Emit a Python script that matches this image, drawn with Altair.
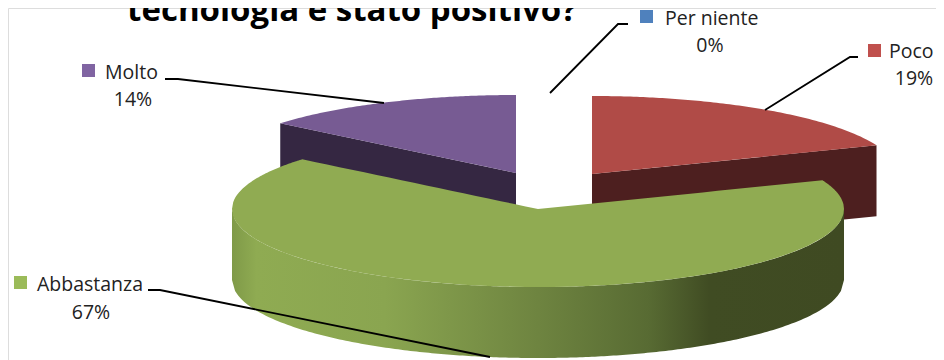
import numpy as np
import pandas as pd
import altair as alt

categories = ["Per niente", "Poco", "Abbastanza", "Molto"]
shares = [0, 19, 67, 14]
percent_labels = ["0%", "19%", "67%", "14%"]
title_text = "tecnologia è stato positivo?"

# layout of the tilted pie (picture pixels)
RX, RY, DEPTH = 306.0, 78.0, 71.0
CENTERS = {"Poco": (592.0, 174.0), "Abbastanza": (538.0, 209.0), "Molto": (516.0, 173.0)}
W, H = 928, 352


def angles():
    out, a = {}, 0.0
    for c, s in zip(categories, shares):
        out[c] = (a, a + s * 3.6)
        a += s * 3.6
    return out


ANG = angles()


def pt(c, deg):
    cx, cy = CENTERS[c]
    r = np.radians(deg)
    return cx + RX * np.sin(r), cy - RY * np.cos(r)


def rim(c, x):
    cx, cy = CENTERS[c]
    u = np.clip((x - cx) / RX, -1, 1)
    h = RY * np.sqrt(1 - u * u)
    return cy - h, cy + h


def lerp(x, a, b):
    return a[1] + (b[1] - a[1]) * (x - a[0]) / (b[0] - a[0])


def frame(xs, y, y2):
    return pd.DataFrame({"x": xs, "y": y, "y2": y2})


def small_top(c):
    a0, a1 = ANG[c]
    apex = CENTERS[c]
    corner = pt(c, a1 if c == "Poco" else a0)
    xs = np.linspace(min(apex[0], corner[0]), max(apex[0], corner[0]), 90)
    return frame(xs, rim(c, xs)[0], lerp(xs, apex, corner))


def small_side(c):
    a0, a1 = ANG[c]
    apex = CENTERS[c]
    corner = pt(c, a1 if c == "Poco" else a0)
    xs = np.array([min(apex[0], corner[0]), max(apex[0], corner[0])])
    y = lerp(xs, apex, corner)
    return frame(xs, y, y + DEPTH)


def big_top(c):
    a0, a1 = ANG[c]
    apex = CENTERS[c]
    right, left = pt(c, a0), pt(c, a1)
    cx = apex[0]
    xs = np.unique(np.concatenate([
        np.linspace(cx - RX, left[0], 60), np.linspace(left[0], cx, 20),
        np.linspace(cx, right[0], 20), np.linspace(right[0], cx + RX, 40)]))
    up, low = rim(c, xs)
    top = up.copy()
    m = (xs >= left[0]) & (xs <= cx)
    top[m] = lerp(xs[m], left, apex)
    m = (xs >= cx) & (xs <= right[0])
    top[m] = lerp(xs[m], apex, right)
    return frame(xs, top, low)


def big_side(c):
    cx = CENTERS[c][0]
    xs = np.linspace(cx - RX, cx + RX, 200)
    low = rim(c, xs)[1]
    return frame(xs, low, low + DEPTH)


x_s = alt.Scale(domain=[8, 8 + W], range=[0, W])
y_s = alt.Scale(domain=[8, 8 + H], range=[0, H])
X = alt.X("x:Q", scale=x_s, axis=None)
Y = alt.Y("y:Q", scale=y_s, axis=None)
Y2 = alt.Y2("y2:Q")


def area(df, fill):
    return alt.Chart(df).mark_area(color=fill, clip=False, interpolate="linear").encode(x=X, y=Y, y2=Y2)


green_side = alt.Gradient(
    gradient="linear", x1=0, x2=1, y1=0, y2=0,
    stops=[
        alt.GradientStop(offset=0.0, color="#7f9a48"),
        alt.GradientStop(offset=0.04, color="#8fab52"),
        alt.GradientStop(offset=0.25, color="#8aa550"),
        alt.GradientStop(offset=0.5, color="#6e8440"),
        alt.GradientStop(offset=0.68, color="#586b33"),
        alt.GradientStop(offset=0.78, color="#404c23"),
        alt.GradientStop(offset=1.0, color="#3f4a22"),
    ],
)

layers = [
    area(small_side("Molto"), "#352742"),
    area(small_top("Molto"), "#775b93"),
    area(small_side("Poco"), "#4d1f1f"),
    area(small_top("Poco"), "#b04b47"),
    area(big_side("Abbastanza"), green_side),
    area(big_top("Abbastanza"), "#90ab52"),
]

leaders = [
    [(165, 79), (178, 79), (384, 103)],
    [(148, 290), (160, 290), (490, 357)],
    [(628, 24), (618, 24), (550, 93)],
    [(858, 57), (850, 57), (765, 110)],
]
for i, seg in enumerate(leaders):
    d = pd.DataFrame({"x": [p[0] for p in seg], "y": [p[1] for p in seg], "o": range(len(seg))})
    layers.append(alt.Chart(d).mark_line(color="#000000", strokeWidth=1.8).encode(x=X, y=Y, order="o:Q"))

key_colors = ["#4f81bd", "#c0504d", "#9bbb59", "#8064a2"]
keys = pd.DataFrame({
    "x": [640, 868, 14, 82], "y": [10, 44, 276, 64], "c": categories,
})
keys["x2"] = keys["x"] + 13
keys["y2"] = keys["y"] + 13
layers.append(
    alt.Chart(keys).mark_rect().encode(
        x=X, x2="x2:Q", y=Y, y2="y2:Q",
        color=alt.Color("c:N", scale=alt.Scale(domain=categories, range=key_colors), legend=None),
    )
)

FONT = "Open Sans"
names = pd.DataFrame({"x": [665, 889, 37, 105], "y": [19, 52, 285, 73], "t": categories})
pcts = pd.DataFrame({"x": [710, 914, 91, 133], "y": [46, 79, 313, 100], "t": percent_labels})
layers.append(alt.Chart(names).mark_text(font=FONT, fontSize=19.5, align="left", baseline="middle", color="#222222").encode(x=X, y=Y, text="t:N"))
layers.append(alt.Chart(pcts).mark_text(font=FONT, fontSize=19.5, align="center", baseline="middle", color="#222222").encode(x=X, y=Y, text="t:N"))
title = pd.DataFrame({"x": [352], "y": [21], "t": [title_text]})
layers.append(alt.Chart(title).mark_text(font=FONT, fontSize=33, fontWeight="bold", align="center", baseline="alphabetic", color="#000000").encode(x=X, y=Y, text="t:N"))

chart = (
    alt.layer(*layers)
    .properties(width=W, height=H, padding=0, autosize=alt.AutoSizeParams(type="none"))
    .configure_view(stroke="transparent", strokeWidth=0)
    .configure(background="white")
)
chart.save("out.html", embed_options={"renderer": "svg", "actions": False})
